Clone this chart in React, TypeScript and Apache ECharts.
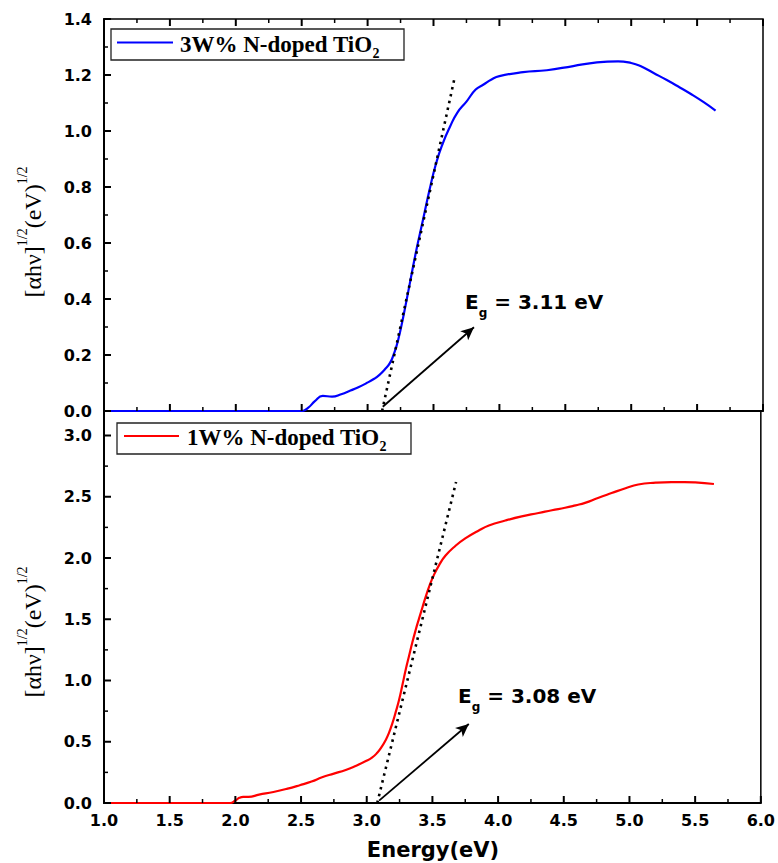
import React, { useEffect, useRef } from "react";
import * as echarts from "echarts";

// ---- Data ----
const blueName = "3W% N-doped TiO2";
const redName = "1W% N-doped TiO2";

const blueData: [number, number][] = [
  [1.0, 0], [1.5, 0], [2.0, 0], [2.5, 0], [2.55, 0.012], [2.6, 0.035], [2.66, 0.054], [2.73, 0.051],
  [2.8, 0.06], [2.87, 0.073], [2.93, 0.085], [2.99, 0.099], [3.05, 0.115], [3.09, 0.129],
  [3.13, 0.148], [3.17, 0.172], [3.2, 0.205], [3.23, 0.25], [3.27, 0.335], [3.32, 0.455],
  [3.37, 0.575], [3.42, 0.682], [3.47, 0.79], [3.52, 0.885], [3.57, 0.955], [3.625, 1.015],
  [3.68, 1.065], [3.75, 1.105], [3.82, 1.148], [3.88, 1.166], [3.94, 1.184], [4.0, 1.196],
  [4.18, 1.21], [4.36, 1.217], [4.56, 1.232], [4.74, 1.245], [4.9, 1.249], [5.0, 1.243],
  [5.07, 1.232], [5.17, 1.207], [5.27, 1.182], [5.36, 1.158], [5.45, 1.133], [5.55, 1.103],
  [5.64, 1.073],
];

const redData: [number, number][] = [
  [1.0, 0], [1.5, 0], [1.96, 0], [2.0, 0.02], [2.03, 0.042], [2.06, 0.05], [2.1, 0.05],
  [2.18, 0.068], [2.29, 0.09], [2.39, 0.115], [2.49, 0.145], [2.58, 0.175], [2.66, 0.21],
  [2.75, 0.24], [2.84, 0.27], [2.92, 0.305], [2.99, 0.34], [3.04, 0.37], [3.08, 0.41],
  [3.115, 0.46], [3.145, 0.515], [3.17, 0.575], [3.195, 0.65], [3.22, 0.74], [3.246, 0.84],
  [3.272, 0.965], [3.297, 1.09], [3.322, 1.2], [3.347, 1.31], [3.372, 1.41], [3.398, 1.505],
  [3.425, 1.6], [3.448, 1.68], [3.48, 1.78], [3.511, 1.86], [3.55, 1.94], [3.6, 2.02],
  [3.676, 2.1], [3.75, 2.16], [3.853, 2.225], [3.93, 2.265], [4.055, 2.306], [4.18, 2.34],
  [4.308, 2.367], [4.41, 2.39], [4.51, 2.41], [4.59, 2.43], [4.662, 2.45], [4.76, 2.49],
  [4.864, 2.53], [4.97, 2.57], [5.067, 2.6], [5.2, 2.615], [5.32, 2.62], [5.42, 2.62],
  [5.5, 2.617], [5.643, 2.604],
];

const blueTangent: [number, number][] = [[3.11, 0], [3.66, 1.19]];
const redTangent: [number, number][] = [[3.08, 0], [3.68, 2.62]];

const blueArrow: [number, number][] = [[3.115, 0.015], [3.807, 0.299]];
const redArrow: [number, number][] = [[3.094, 0.019], [3.777, 0.645]];

const blueGap = "3.11";
const redGap = "3.08";

const xTicks = { min: 1, max: 6, interval: 0.5 };
const yTopTicks = { min: 0, max: 1.4, interval: 0.2 };
const yBottomTicks = { min: 0, max: 3.2, interval: 0.5 };

// tick positions (major / minor)
const xMajor = [1.0, 1.5, 2.0, 2.5, 3.0, 3.5, 4.0, 4.5, 5.0, 5.5, 6.0];
const xMinor = [1.25, 1.75, 2.25, 2.75, 3.25, 3.75, 4.25, 4.75, 5.25, 5.75];
const yTopMajor = [0, 0.2, 0.4, 0.6, 0.8, 1.0, 1.2, 1.4];
const yTopMinor = [0.1, 0.3, 0.5, 0.7, 0.9, 1.1, 1.3];
const yBotMajor = [0, 0.5, 1.0, 1.5, 2.0, 2.5, 3.0];
const yBotMinor = [0.25, 0.75, 1.25, 1.75, 2.25, 2.75];

const SANS = "DejaVu Sans";
const SERIF = "Liberation Serif";

export default function App() {
  const ref = useRef<HTMLDivElement>(null);

  useEffect(() => {
    if (!ref.current) return;
    const chart = echarts.init(ref.current, null, { renderer: "svg" });

    const labelStyle = {
      fontFamily: SANS,
      fontWeight: "bold" as const,
      fontSize: 16,
      color: "#000",
    };

    const xAxisDef = (gridIndex: number, showLabel: boolean) => ({
      type: "value",
      gridIndex,
      position: "bottom",
      min: xTicks.min,
      max: xTicks.max,
      interval: xTicks.interval,
      axisLine: { show: true, onZero: false, lineStyle: { color: "#000", width: 2 } },
      axisTick: { show: false },
      minorTick: { show: false },
      splitLine: { show: false },
      minorSplitLine: { show: false },
      axisLabel: {
        show: showLabel,
        margin: 9,
        formatter: (v: number) => v.toFixed(1),
        ...labelStyle,
      },
    });

    const yAxisDef = (gridIndex: number, t: { min: number; max: number; interval: number }) => ({
      type: "value",
      gridIndex,
      position: "left",
      min: t.min,
      max: t.max,
      interval: t.interval,
      axisLine: { show: true, onZero: false, lineStyle: { color: "#000", width: 2 } },
      axisTick: { show: false },
      minorTick: { show: false },
      splitLine: { show: false },
      minorSplitLine: { show: false },
      axisLabel: {
        show: true,
        margin: 12,
        showMaxLabel: gridIndex === 0,
        formatter: (v: number) => v.toFixed(1),
        ...labelStyle,
      },
    });

    // ticks drawn through the axes' own scales (api.coord)
    const tickSeries = (
      xAxisIndex: number,
      yAxisIndex: number,
      major: number[],
      minor: number[],
      side: "bottom" | "top" | "left",
      ext: { xMin: number; yMin: number; yMax: number }
    ) => ({
      type: "custom",
      xAxisIndex,
      yAxisIndex,
      silent: true,
      clip: false,
      z: 6,
      data: [...major.map((v) => [v, 1]), ...minor.map((v) => [v, 0])],
      renderItem: (_params: any, api: any) => {
        const v = api.value(0);
        const isMajor = api.value(1) === 1;
        const len = isMajor ? 7 : 4;
        let p: number[];
        let x2: number;
        let y2: number;
        if (side === "left") {
          p = api.coord([ext.xMin, v]);
          x2 = p[0] + len;
          y2 = p[1];
        } else if (side === "bottom") {
          p = api.coord([v, ext.yMin]);
          x2 = p[0];
          y2 = p[1] - len;
        } else {
          p = api.coord([v, ext.yMax]);
          x2 = p[0];
          y2 = p[1] + len;
        }
        return {
          type: "line",
          shape: { x1: p[0], y1: p[1], x2, y2 },
          style: { stroke: "#000", lineWidth: isMajor ? 2 : 1.5 },
        };
      },
    });

    const arrowMark = (pts: [number, number][]) => ({
      silent: true,
      symbol: ["none", "arrow"],
      symbolSize: [9, 13],
      label: { show: false },
      lineStyle: { type: "solid", color: "#000", width: 1.8 },
      emphasis: { disabled: true },
      data: [[{ coord: pts[0] }, { coord: pts[1] }]],
    });

    const legendRich = {
      m: { fontFamily: SERIF, fontWeight: "bold", fontSize: 23, lineHeight: 32, color: "#000" },
      s: { fontFamily: SERIF, fontWeight: "bold", fontSize: 14, lineHeight: 13, verticalAlign: "bottom", color: "#000" },
    };
    const egRich = {
      m: { fontFamily: SANS, fontWeight: "bold", fontSize: 20, lineHeight: 34, color: "#000" },
      s: { fontFamily: SANS, fontWeight: "bold", fontSize: 12, lineHeight: 12, verticalAlign: "bottom", color: "#000" },
    };
    const yTitleRich = {
      m: { fontFamily: SERIF, fontSize: 24, lineHeight: 36, color: "#000" },
      s: { fontFamily: SERIF, fontSize: 14, lineHeight: 12, verticalAlign: "top", color: "#000" },
    };
    const legendText = (name: string) =>
      "{m|" + name.slice(0, -1) + "}{s|" + name.slice(-1) + "}";

    const topExt = { xMin: xTicks.min, yMin: yTopTicks.min, yMax: yTopTicks.max };
    const botExt = { xMin: xTicks.min, yMin: yBottomTicks.min, yMax: yBottomTicks.max };

    const option = {
      animation: false,
      grid: [
        { left: 104, top: 19, width: 659, height: 392, show: true, borderColor: "#000", borderWidth: 1.5, backgroundColor: "transparent" },
        { left: 104, top: 411, width: 659, height: 392, show: true, borderColor: "#000", borderWidth: 1.5, backgroundColor: "transparent" },
      ],
      xAxis: [xAxisDef(0, false), xAxisDef(1, true)],
      yAxis: [yAxisDef(0, yTopTicks), yAxisDef(1, yBottomTicks)],
      series: [
        {
          type: "line",
          name: blueName,
          xAxisIndex: 0,
          yAxisIndex: 0,
          data: blueData,
          smooth: 0.5,
          showSymbol: false,
          lineStyle: { color: "#0000ff", width: 2.2 },
          z: 3,
        },
        {
          type: "line",
          xAxisIndex: 0,
          yAxisIndex: 0,
          data: blueTangent,
          showSymbol: false,
          lineStyle: { color: "#000", width: 2.6, type: [2.5, 4.5] },
          markLine: arrowMark(blueArrow),
          z: 4,
        },
        {
          type: "line",
          name: redName,
          xAxisIndex: 1,
          yAxisIndex: 1,
          data: redData,
          smooth: 0.5,
          showSymbol: false,
          lineStyle: { color: "#ff0000", width: 2.2 },
          z: 3,
        },
        {
          type: "line",
          xAxisIndex: 1,
          yAxisIndex: 1,
          data: redTangent,
          showSymbol: false,
          lineStyle: { color: "#000", width: 2.6, type: [2.5, 4.5] },
          markLine: arrowMark(redArrow),
          z: 4,
        },
        tickSeries(0, 0, xMajor, xMinor, "bottom", topExt),
        tickSeries(0, 0, xMajor, xMinor, "top", topExt),
        tickSeries(0, 0, yTopMajor, yTopMinor, "left", topExt),
        tickSeries(1, 1, xMajor, xMinor, "bottom", botExt),
        tickSeries(1, 1, yBotMajor, yBotMinor, "left", botExt),
      ],
      graphic: [
        // legend top
        { type: "rect", shape: { x: 111, y: 29, width: 293, height: 31 }, style: { fill: "#fff", stroke: "#222", lineWidth: 1.3 }, z: 100 },
        { type: "line", shape: { x1: 117, y1: 42.5, x2: 173, y2: 42.5 }, style: { stroke: "#0000ff", lineWidth: 2 }, z: 101 },
        { type: "text", x: 180, y: 44, style: { text: legendText(blueName), rich: legendRich, align: "left", verticalAlign: "middle" }, z: 101 },
        // legend bottom
        { type: "rect", shape: { x: 117, y: 423, width: 294, height: 31 }, style: { fill: "#fff", stroke: "#222", lineWidth: 1.3 }, z: 100 },
        { type: "line", shape: { x1: 124, y1: 436, x2: 179, y2: 436 }, style: { stroke: "#ff0000", lineWidth: 2 }, z: 101 },
        { type: "text", x: 187, y: 437, style: { text: legendText(redName), rich: legendRich, align: "left", verticalAlign: "middle" }, z: 101 },
        // Eg annotations
        { type: "text", x: 465, y: 301.5, style: { text: "{m|E}{s|g}{m| = " + blueGap + " eV}", rich: egRich, align: "left", verticalAlign: "middle" }, z: 101 },
        { type: "text", x: 458, y: 696, style: { text: "{m|E}{s|g}{m| = " + redGap + " eV}", rich: egRich, align: "left", verticalAlign: "middle" }, z: 101 },
        // y titles
        { type: "text", x: 33, y: 232, rotation: Math.PI / 2, style: { text: "{m|[αhν]}{s|1/2}{m|(eV)}{s|1/2}", rich: yTitleRich, align: "center", verticalAlign: "middle" }, z: 101 },
        { type: "text", x: 33, y: 632, rotation: Math.PI / 2, style: { text: "{m|[αhν]}{s|1/2}{m|(eV)}{s|1/2}", rich: yTitleRich, align: "center", verticalAlign: "middle" }, z: 101 },
        // x title
        { type: "text", x: 433, y: 850, style: { text: "Energy(eV)", fontFamily: SANS, fontWeight: "bold", fontSize: 21, fill: "#000", align: "center", verticalAlign: "middle" }, z: 101 },
      ],
    };

    chart.setOption(option as any);
    return () => {
      chart.dispose();
    };
  }, []);

  return (
    <div
      ref={ref}
      style={{ position: "absolute", left: 0, top: 0, width: 778, height: 863, background: "#fff" }}
    />
  );
}
